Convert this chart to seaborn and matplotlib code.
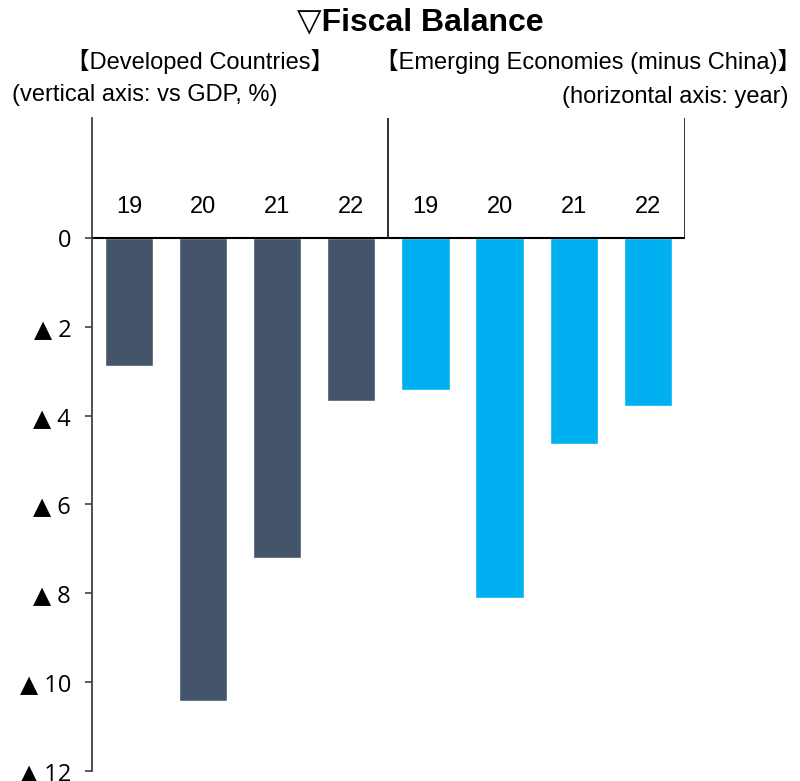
import matplotlib
matplotlib.use("Agg")
import pandas as pd
import matplotlib.pyplot as plt
import seaborn as sns

# === Data (share of GDP, %) ===
years = ["19", "20", "21", "22"]
developed = [-2.88, -10.43, -7.21, -3.67]
emerging = [-3.42, -8.11, -4.64, -3.78]
groups = ["Developed Countries", "Emerging Economies (minus China)"]
y_ticks = [0, -2, -4, -6, -8, -10, -12]
y_tick_labels = ["0", "▲ 2", "▲ 4", "▲ 6", "▲ 8", "▲ 10", "▲ 12"]

FONTS = ["Liberation Sans Narrow", "Liberation Sans", "DejaVu Sans", "Noto Sans CJK JP"]
TICK_FONTS = ["Open Sans", "DejaVu Sans"]


def main():
    sns.set_style("white")
    plt.rcParams["font.family"] = FONTS
    plt.rcParams["text.color"] = "black"
    plt.rcParams["ytick.labelcolor"] = "black"

    df = pd.DataFrame({
        "slot": [f"{g[:3]}-{y}" for g in groups for y in years],
        "year": years * 2,
        "value": developed + emerging,
        "group": [groups[0]] * 4 + [groups[1]] * 4,
    })

    fig = plot_figure(df)
    fig.savefig("out.png", dpi=100)


def plot_figure(df):
    fig = plt.figure(figsize=(8, 7.81), dpi=100)
    ax = fig.add_axes([0.115, 0.0128, 0.741, 0.8362])

    sns.barplot(
        data=df, x="slot", y="value", hue="group",
        palette=["#44546A", "#00B0F0"], dodge=False, width=0.65,
        saturation=1, legend=False, ax=ax,
    )

    ax.set_ylim(-12, 2.7)
    ax.set_xlim(-0.5, len(df) - 0.5)
    ax.set_yticks(y_ticks)
    ax.set_yticklabels(y_tick_labels, fontsize=17, family=TICK_FONTS, color="black")
    ax.tick_params(axis="y", length=5, width=1.2, color="#404040", pad=10, left=True)
    ax.set_xticks([])
    ax.set_xlabel("")
    ax.set_ylabel("")

    for side in ["top", "right", "bottom"]:
        ax.spines[side].set_visible(False)
    ax.spines["left"].set_color("#404040")
    ax.spines["left"].set_linewidth(1.3)

    # zero line, group divider and right border of the header band
    frac0 = 12 / 14.7
    ax.axhline(0, color="black", lw=1.5)
    ax.axvline(3.5, ymin=frac0, ymax=1, color="#202020", lw=1.3)
    ax.axvline(7.5, ymin=frac0, ymax=1, color="#202020", lw=1.3)

    # year labels above the zero line
    for i, yr in enumerate(df["year"]):
        ax.text(i, 0.7, yr, ha="center", va="center", fontsize=17)

    fig.text(0.525, 0.972, "▽Fiscal Balance", ha="center", va="center",
             fontsize=23, fontweight="bold")
    fig.text(0.25, 0.921, "【Developed Countries】", ha="center", va="center", fontsize=17)
    fig.text(0.735, 0.921, "【Emerging Economies (minus China)】", ha="center",
             va="center", fontsize=17)
    fig.text(0.015, 0.878, "(vertical axis: vs GDP, %)", ha="left", va="center", fontsize=17)
    fig.text(0.985, 0.876, "(horizontal axis: year)", ha="right", va="center", fontsize=17)

    return fig


if __name__ == "__main__":
    main()
